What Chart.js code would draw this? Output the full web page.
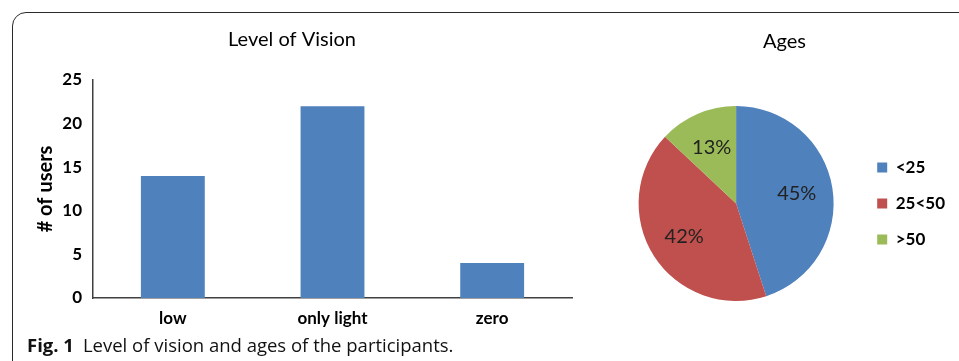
<!DOCTYPE html>
<html>
<head>
<meta charset="utf-8">
<script src="https://cdn.jsdelivr.net/npm/chart.js@4.4.1/dist/chart.umd.min.js"></script>
<style>
  html, body { margin: 0; padding: 0; background: #fff; }
  body { width: 959px; height: 361px; position: relative; overflow: hidden; }
  #frame {
    position: absolute; left: 12px; top: 12px; width: 1000px; height: 400px;
    border: 1.5px solid #2a2a2a; border-top-left-radius: 14px; box-sizing: border-box;
  }
  #barBox { position: absolute; left: 12px; top: 15px; width: 570px; height: 320px; }
  #pieBox { position: absolute; left: 600px; top: 15px; width: 359px; height: 320px; }
  #caption {
    position: absolute; left: 27px; top: 332px; font-family: "Open Sans", sans-serif;
    font-size: 18.5px; color: #111; white-space: nowrap;
  }
  #caption b { font-weight: 700; margin-right: 9px; }
</style>
</head>
<body>
<div id="frame"></div>
<div id="barBox"><canvas id="barChart"></canvas></div>
<div id="pieBox"><canvas id="pieChart"></canvas></div>
<div id="caption"><b>Fig. 1</b>Level of vision and ages of the participants.</div>
<script>
// Level of Vision (bar)
const visionLevels = ['low', 'only light', 'zero'];
const userCounts = [14, 22, 4];
const yTicks = [0, 5, 10, 15, 20, 25];

// Ages (pie)
const ageGroups = ['<25', '25<50', '>50'];
const agePercents = [45, 42, 13];

const blue = '#4F81BD', red = '#C0504D', green = '#9BBB59';
const chartFont = 'Lato';

const barCtx = document.getElementById('barChart').getContext('2d');
new Chart(barCtx, {
  type: 'bar',
  data: {
    labels: visionLevels,
    datasets: [{
      data: userCounts,
      backgroundColor: blue,
      borderWidth: 0,
      barPercentage: 0.5,
      categoryPercentage: 0.8
    }]
  },
  options: {
    responsive: true,
    maintainAspectRatio: false,
    animation: false,
    layout: { padding: { left: 0, right: 10, top: 0, bottom: 0 } },
    plugins: {
      legend: { display: false },
      tooltip: { enabled: false },
      title: {
        display: true,
        text: 'Level of Vision',
        color: '#000',
        font: { family: chartFont, size: 20, weight: 'normal' },
        padding: { top: 13, bottom: 28 }
      }
    },
    scales: {
      x: {
        grid: { display: false, drawTicks: false },
        border: { color: '#404040', width: 1.5 },
        ticks: { color: '#000', padding: 10, font: { family: chartFont, size: 17, weight: 'bold' } },
        afterFit: s => { s.height = 37; }
      },
      y: {
        min: 0,
        max: 25,
        afterBuildTicks: s => { s.ticks = yTicks.map(v => ({ value: v })); },
        grid: { display: false, drawTicks: false },
        border: { color: '#404040', width: 1.5 },
        ticks: { color: '#000', padding: 11, font: { family: chartFont, size: 17, weight: 'bold' } },
        title: {
          display: true,
          text: '# of users',
          color: '#000',
          font: { family: chartFont, size: 20, weight: 'bold' },
          padding: { top: 22, bottom: 0 }
        },
        afterFit: s => { s.width = 81; }
      }
    }
  }
});

// draws the percentage inside each slice
const sliceLabels = {
  id: 'sliceLabels',
  afterDatasetsDraw(chart) {
    const ctx = chart.ctx;
    const meta = chart.getDatasetMeta(0);
    ctx.save();
    ctx.font = '20px ' + chartFont;
    ctx.fillStyle = '#222';
    ctx.textAlign = 'center';
    ctx.textBaseline = 'middle';
    meta.data.forEach((arc, i) => {
      const p = arc.getProps(['x', 'y', 'startAngle', 'endAngle', 'outerRadius'], true);
      const mid = (p.startAngle + p.endAngle) / 2;
      const r = p.outerRadius * 0.63;
      ctx.fillText(agePercents[i] + '%', p.x + Math.cos(mid) * r, p.y + Math.sin(mid) * r);
    });
    ctx.restore();
  }
};

const pieCtx = document.getElementById('pieChart').getContext('2d');
new Chart(pieCtx, {
  type: 'pie',
  data: {
    labels: ageGroups,
    datasets: [{
      data: agePercents,
      backgroundColor: [blue, red, green],
      borderWidth: 0
    }]
  },
  options: {
    responsive: true,
    maintainAspectRatio: false,
    animation: false,
    layout: { padding: { left: 14, right: 4, top: 0, bottom: 34 } },
    plugins: {
      tooltip: { enabled: false },
      title: {
        display: true,
        text: 'Ages',
        color: '#000',
        font: { family: chartFont, size: 20, weight: 'normal' },
        padding: { top: 15, bottom: 52 }
      },
      legend: {
        position: 'right',
        fullSize: false,
        labels: {
          color: '#000',
          boxWidth: 10,
          boxHeight: 10,
          padding: 19,
          font: { family: chartFont, size: 17, weight: 'bold' }
        }
      }
    }
  },
  plugins: [sliceLabels]
});
</script>
</body>
</html>
